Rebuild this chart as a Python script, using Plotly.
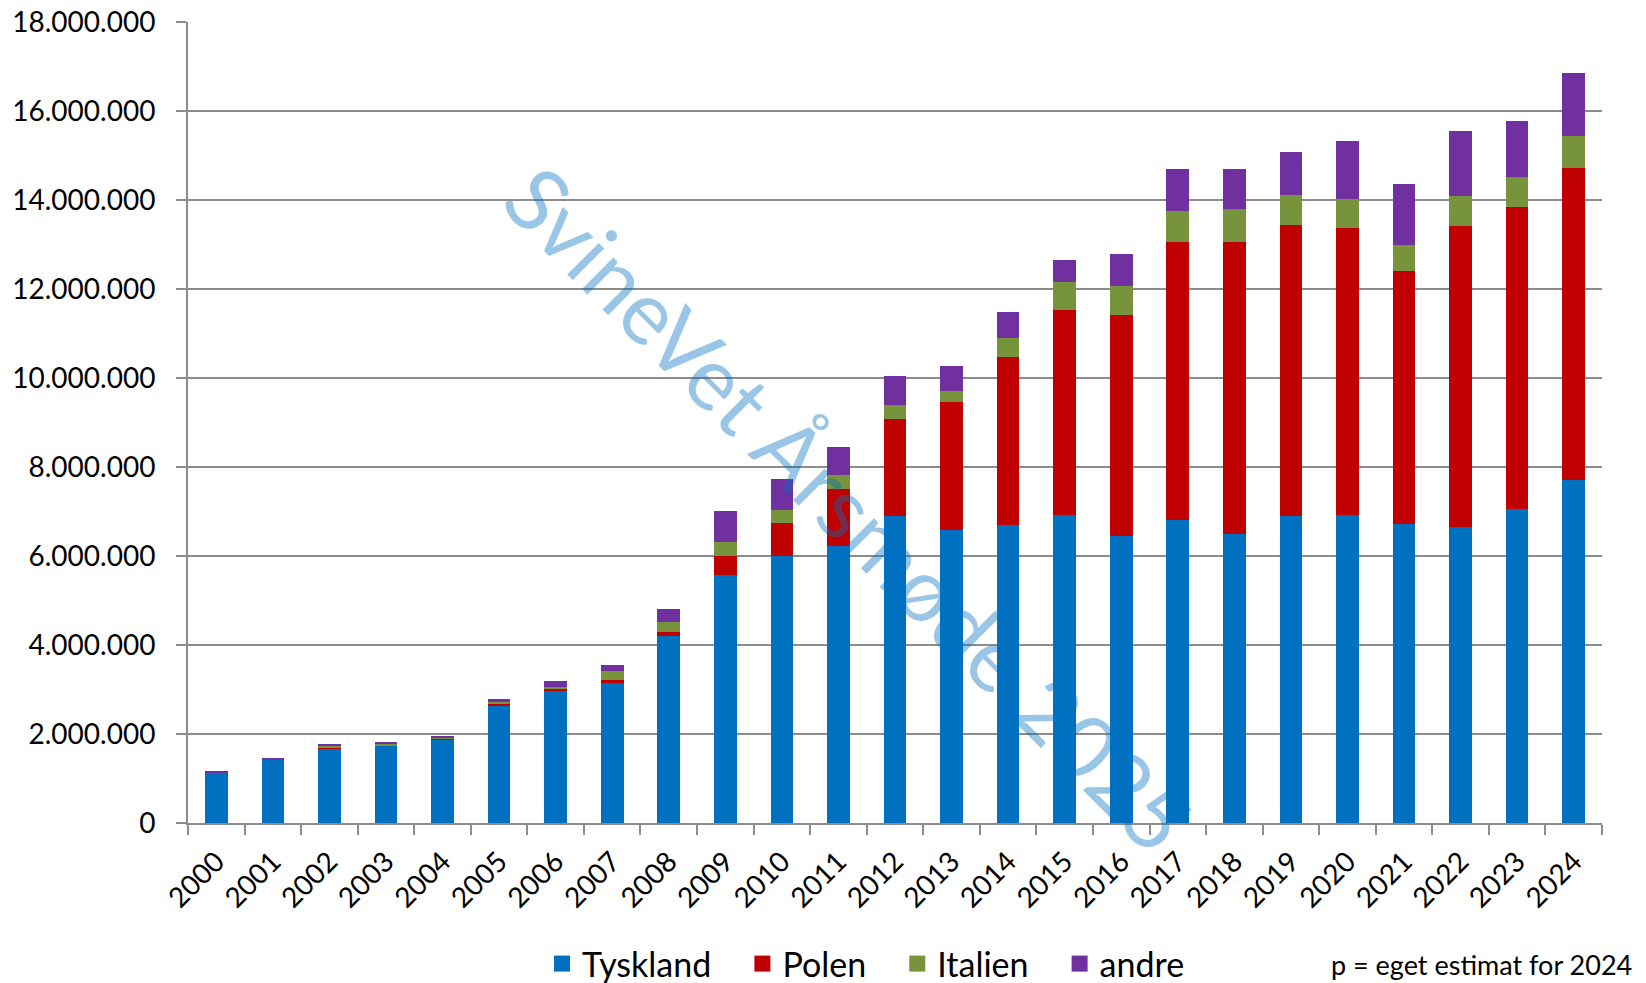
import plotly.graph_objects as go

years = [str(y) for y in range(2000, 2025)]

tyskland = [1.14, 1.43, 1.68, 1.74, 1.88, 2.64, 2.97, 3.15, 4.21, 5.57, 6.00, 6.23, 6.90, 6.58, 6.69, 6.92, 6.46, 6.81, 6.49, 6.89, 6.92, 6.72, 6.66, 7.06, 7.70]
polen = [0.00, 0.00, 0.01, 0.01, 0.02, 0.04, 0.05, 0.06, 0.09, 0.43, 0.74, 1.27, 2.18, 2.87, 3.78, 4.61, 4.96, 6.25, 6.57, 6.54, 6.46, 5.68, 6.75, 6.78, 7.03]
italien = [0.00, 0.00, 0.05, 0.03, 0.03, 0.05, 0.04, 0.20, 0.22, 0.31, 0.29, 0.31, 0.31, 0.26, 0.42, 0.63, 0.65, 0.69, 0.74, 0.68, 0.65, 0.58, 0.68, 0.68, 0.71]
andre = [0.03, 0.02, 0.03, 0.02, 0.025, 0.05, 0.12, 0.14, 0.30, 0.70, 0.69, 0.63, 0.66, 0.55, 0.59, 0.50, 0.71, 0.95, 0.90, 0.97, 1.30, 1.37, 1.47, 1.25, 1.42]

series = [
    ("Tyskland", tyskland, "#0070C0"),
    ("Polen", polen, "#C00000"),
    ("Italien", italien, "#77933C"),
    ("andre", andre, "#7030A0"),
]

FONT = "Lato, Carlito, 'Open Sans', sans-serif"
GRID = "#8C8C8C"
PAD = "\u00a0\u00a0\u00a0"

W, H = 1646, 983
OFF = 8  # page offset of the figure
fig = go.Figure()
for name, vals, col in series:
    fig.add_trace(go.Bar(
        x=years, y=[v * 1e6 for v in vals], name=name,
        marker=dict(color=col, line=dict(width=0)),
        showlegend=False,
    ))
for i, (name, vals, col) in enumerate(series):
    label = name + (PAD if i < len(series) - 1 else "")
    fig.add_trace(go.Scatter(
        x=[None], y=[None], mode="markers", name=label,
        marker=dict(symbol="square", size=16, color=col),
        showlegend=True,
    ))

fig.update_layout(
    width=W, height=H,
    barmode="stack", bargap=0.6,
    plot_bgcolor="white", paper_bgcolor="white",
    separators=",.",
    margin=dict(l=188 - OFF, r=W - (188 - OFF) - 1414, t=22 - OFF,
                b=H - (22 - OFF) - 801, autoexpand=False),
    font=dict(family=FONT, color="#000000"),
    legend=dict(
        orientation="h", traceorder="normal",
        xref="container", yref="container",
        x=(866 - OFF) / W, xanchor="center", y=(H - (964 - OFF)) / H, yanchor="middle",
        font=dict(size=34, family=FONT), itemwidth=30, tracegroupgap=0,
        bgcolor="rgba(0,0,0,0)",
    ),
    showlegend=True,
)
fig.update_yaxes(
    range=[0, 18e6], dtick=2e6, tickformat=",d",
    showgrid=True, gridcolor=GRID, gridwidth=2,
    showline=True, linecolor=GRID, linewidth=2,
    ticks="outside", ticklen=10, tickcolor=GRID, tickwidth=2,
    tickfont=dict(size=28, family=FONT, color="#000"),
    ticklabelstandoff=15, automargin=False, ticklabeloverflow="allow",
    zeroline=False,
)
fig.update_xaxes(
    type="category", tickangle=-45, tickson="boundaries",
    showline=True, linecolor=GRID, linewidth=2,
    ticks="outside", ticklen=10, tickcolor=GRID, tickwidth=2,
    tickfont=dict(size=28, family=FONT, color="#000"),
    ticklabelstandoff=9, automargin=False, ticklabeloverflow="allow",
    showgrid=False,
)
fig.add_annotation(
    text="SvineVet Årsmøde 2025", xref="paper", yref="paper",
    x=(849 - 188) / 1414, y=(823 - 508) / 801, xanchor="center", yanchor="middle",
    textangle=45, showarrow=False,
    font=dict(size=88, family=FONT, color="rgba(0,112,192,0.40)"),
)
fig.add_annotation(
    text="p = eget estimat for 2024", xref="paper", yref="paper",
    x=(1634 - 188) / 1414, y=(823 - 964) / 801, xanchor="right", yanchor="middle",
    showarrow=False, font=dict(size=27, family=FONT, color="#000"),
)
fig.write_html("out.html")
